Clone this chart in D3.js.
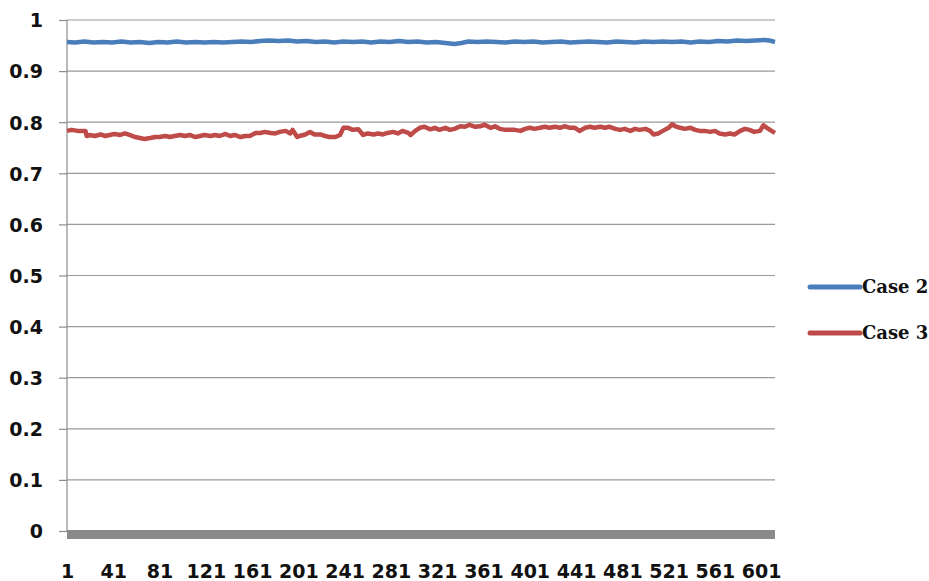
<!DOCTYPE html>
<html>
<head>
<meta charset="utf-8">
<script src="https://cdn.jsdelivr.net/npm/d3@7"></script>
<style>
  html, body { margin: 0; padding: 0; background: #fff; }
  svg { display: block; }
</style>
</head>
<body>
<svg id="chart" width="929" height="581"></svg>
<script>
// ---- data ----
const pointCount = 613;
const xTickLabels = [1, 41, 81, 121, 161, 201, 241, 281, 321, 361, 401, 441, 481, 521, 561, 601];
const yTickValues = [0, 0.1, 0.2, 0.3, 0.4, 0.5, 0.6, 0.7, 0.8, 0.9, 1];
const yTickLabels = ["0", "0.1", "0.2", "0.3", "0.4", "0.5", "0.6", "0.7", "0.8", "0.9", "1"];
const seriesNames = ["Case 2", "Case 3"];

const case2Index = [1,8,16,24,32,40,48,56,64,72,80,88,96,104,112,120,128,136,144,152,160,168,176,184,192,200,208,216,224,232,240,248,256,264,272,280,288,296,304,312,320,328,336,342,348,356,364,372,380,388,396,404,412,420,428,436,444,452,460,468,476,484,492,500,508,516,524,532,540,548,556,564,572,580,588,596,604,608,613];
const case2Values = [.957,.956,.958,.956,.957,.956,.958,.956,.957,.955,.957,.956,.958,.956,.957,.956,.957,.956,.957,.958,.957,.959,.960,.959,.960,.958,.959,.957,.958,.956,.958,.957,.958,.956,.958,.957,.959,.957,.958,.956,.957,.955,.953,.955,.958,.957,.958,.957,.956,.958,.957,.958,.956,.957,.958,.956,.957,.958,.957,.956,.958,.957,.956,.958,.957,.958,.957,.958,.956,.958,.957,.959,.958,.960,.959,.960,.961,.960,.957];

const case3Index = [1,5,10,14,17,18,21,25,30,34,38,42,47,51,55,60,64,68,73,77,81,86,90,94,99,103,107,112,116,120,125,129,133,138,142,146,151,155,159,164,168,172,177,181,185,190,194,196,200,202,207,211,215,220,224,228,233,237,240,244,248,253,257,261,266,270,274,278,283,287,291,296,298,302,306,310,315,319,323,328,332,336,341,345,349,354,358,362,367,371,375,380,384,388,393,397,401,405,410,414,418,423,427,431,436,440,444,449,453,457,462,466,470,475,479,483,488,492,496,501,505,508,512,516,521,524,527,531,535,540,544,548,552,557,561,565,570,574,578,583,587,591,595,600,603,606,610,613];
const case3Values = [.783,.785,.783,.783,.783,.773,.775,.773,.776,.773,.775,.777,.775,.778,.775,.771,.769,.767,.769,.771,.771,.773,.771,.773,.775,.773,.775,.771,.773,.775,.773,.775,.773,.777,.773,.775,.771,.773,.773,.779,.779,.781,.779,.778,.781,.783,.778,.785,.771,.773,.776,.781,.776,.776,.773,.771,.771,.775,.789,.789,.785,.786,.775,.778,.776,.778,.776,.779,.781,.778,.783,.779,.775,.783,.789,.791,.786,.789,.785,.789,.785,.787,.792,.791,.795,.791,.792,.795,.789,.792,.787,.785,.785,.785,.783,.787,.789,.787,.789,.791,.789,.791,.789,.792,.789,.789,.783,.789,.791,.789,.791,.789,.791,.787,.785,.787,.783,.787,.785,.787,.783,.776,.778,.783,.789,.796,.792,.789,.787,.789,.785,.783,.783,.781,.783,.778,.776,.778,.776,.783,.787,.785,.781,.783,.794,.789,.783,.779];

const seriesColors = ["#4a7ebb", "#be4b48"];

// ---- layout ----
const svg = d3.select("#chart");
const plot = { left: 67, right: 775, top: 20, bottom: 531 };

const x = d3.scaleLinear().domain([1, pointCount]).range([plot.left, plot.right]);
const y = d3.scaleLinear().domain([0, 1]).range([plot.bottom, plot.top]);

// gridlines
svg.append("g").selectAll("line").data(yTickValues.filter(v => v > 0)).join("line")
  .attr("x1", plot.left).attr("x2", plot.right)
  .attr("y1", d => y(d)).attr("y2", d => y(d))
  .attr("stroke", "#9a9a9a").attr("stroke-width", 1.2);

// y axis
const yAxis = d3.axisLeft(y).tickValues(yTickValues)
  .tickFormat((d, i) => yTickLabels[i]).tickSize(8).tickPadding(16);
const yg = svg.append("g").attr("transform", `translate(${plot.left},0)`).call(yAxis);
yg.select(".domain").attr("stroke", "#8c8c8c").attr("stroke-width", 1.2)
  .attr("d", `M0,${plot.top}V${plot.bottom}`);
yg.selectAll(".tick line").attr("stroke", "#8c8c8c").attr("stroke-width", 1.2);
yg.selectAll(".tick text")
  .attr("font-family", "DejaVu Sans").attr("font-weight", "bold").attr("font-size", 19)
  .attr("fill", "#111").attr("dy", "0.36em");

// thick grey bottom axis band
svg.append("rect")
  .attr("x", plot.left).attr("y", y(0) - 1)
  .attr("width", plot.right - plot.left).attr("height", 9)
  .attr("fill", "#8a8a8a");

// x axis labels
const xAxis = d3.axisBottom(x).tickValues(xTickLabels).tickFormat(d => String(d))
  .tickSize(0).tickPadding(0);
const xg = svg.append("g").attr("transform", `translate(0,${plot.bottom})`).call(xAxis);
xg.select(".domain").remove();
xg.selectAll(".tick text")
  .attr("font-family", "DejaVu Sans").attr("font-weight", "bold").attr("font-size", 19)
  .attr("fill", "#111").attr("y", 47).attr("dy", 0);

// lines
const line = d3.line().x(d => x(d[0])).y(d => y(d[1]));
const data2 = case2Index.map((v, i) => [v, case2Values[i]]);
const data3 = case3Index.map((v, i) => [v, case3Values[i]]);
[data2, data3].forEach((d, i) => {
  svg.append("path").datum(d)
    .attr("fill", "none").attr("stroke", seriesColors[i])
    .attr("stroke-width", 4.5).attr("stroke-linejoin", "round")
    .attr("d", line);
});

// legend
const legendY = [287, 333];
seriesNames.forEach((name, i) => {
  svg.append("line")
    .attr("x1", 810).attr("x2", 860).attr("y1", legendY[i]).attr("y2", legendY[i])
    .attr("stroke", seriesColors[i]).attr("stroke-width", 5).attr("stroke-linecap", "round");
  svg.append("text").attr("x", 862).attr("y", legendY[i]).attr("dy", "0.36em")
    .attr("font-family", "DejaVu Serif").attr("font-weight", "bold").attr("font-size", 18)
    .attr("fill", "#111").text(name);
});
</script>
</body>
</html>
